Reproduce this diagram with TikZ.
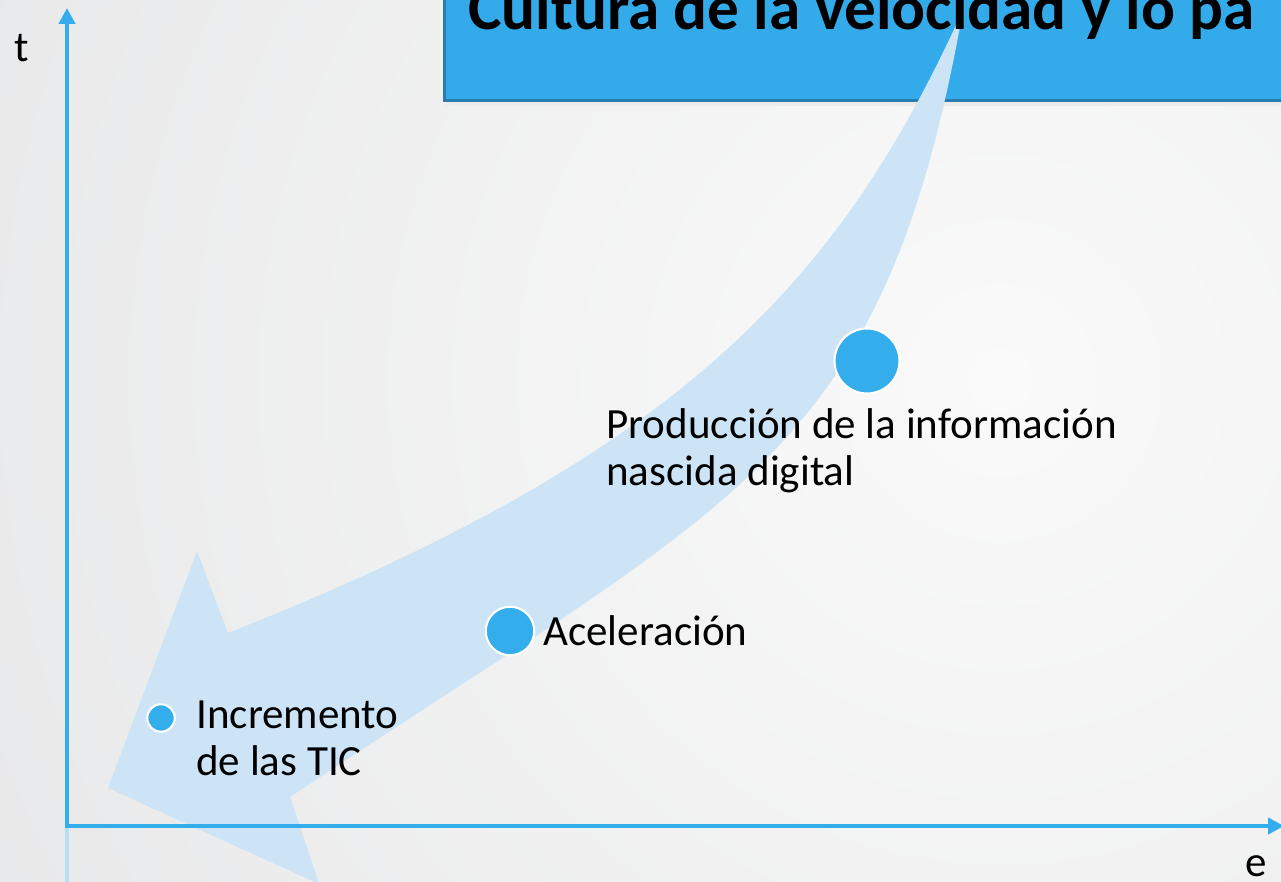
\documentclass[tikz,border=0pt]{standalone}
\usepackage{fontspec}
\setmainfont{Carlito}
\usetikzlibrary{arrows.meta,positioning}
\definecolor{axis_blue}{HTML}{33ADEB}
\definecolor{title_blue}{HTML}{33ABEB}
\definecolor{title_edge}{HTML}{2A7BAE}
\definecolor{arrow_fill}{HTML}{CDE4F7}
\definecolor{bg_light}{HTML}{FAFAFA}
\definecolor{bg_dark}{HTML}{DADBDD}

\begin{document}
\begin{tikzpicture}[x=0.02cm,y=-0.02cm,
      dot_node/.style={
         circle,
         draw=white,
         fill=axis_blue,
         line width=1.2pt,
         inner sep=0pt,
         minimum size=#1},
      label_text/.style={
         font=\fontsize{24.5}{26.7}\selectfont,
         inner sep=0pt,
         align=left},
      title_text/.style={
         font=\fontsize{36}{42}\selectfont\bfseries,
         inner sep=0pt},
      arrow_axis/.style={
         {Triangle[length=9pt,width=9pt]}-{Triangle[length=9pt,width=9pt]},
         line width=2.3pt,
         draw=axis_blue}
]
      \useasboundingbox (0,0) rectangle (1281,882);
      \clip (0,0) rectangle (1281,882);
      % background
      \shade[inner color=bg_light, outer color=bg_dark] (1000,380) circle (2000);

      % title box
      \fill[black!8] (446,-20) rectangle (1300,106);
      \fill[title_edge] (443,-20) rectangle (1300,102);
      \fill[title_blue] (446,-20) rectangle (1300,99);

      % big curved arrow
      \fill[arrow_fill] (963,10)
         .. controls (840,280) and (684,453) .. (228,633)
         -- (197,551) -- (108,788) -- (319,884) -- (290,797)
         .. controls (740,497) and (883,460) .. (963,10)
         -- cycle;

      \node[title_text, anchor=base west] (title) at (468,30) {Cultura de la velocidad y lo pa};

      % axes
      \coordinate (o) at (67,826);
      \coordinate (t_end) at (67,8);
      \coordinate (e_end) at (1284,826);
      \draw[axis_blue!45, line width=2.3pt, opacity=0.7] (o) -- (67,882);
      \draw[arrow_axis] (t_end) -- (o) -- (e_end);
      \node[label_text, anchor=base west] (t) at (14,62) {t};
      \node[label_text, anchor=base west, text depth=0pt] (e) at (1245,876) {e};

      % points
      \node[dot_node=1.3cm] (prod) at (867,361) {};
      \node[dot_node=0.97cm] (acel) at (510,631) {};
      \node[dot_node=0.55cm] (incr) at (161,718) {};

      % last line on the baseline
      \node[label_text, anchor=base west] (prod_txt) at (606,485) {Producción de la información\\nascida digital};
      \node[label_text, anchor=base west] (acel_txt) at (543,645) {Aceleración};
      \node[label_text, anchor=base west] (incr_txt) at (196,775) {Incremento\\de las TIC};
\end{tikzpicture}
\end{document}
